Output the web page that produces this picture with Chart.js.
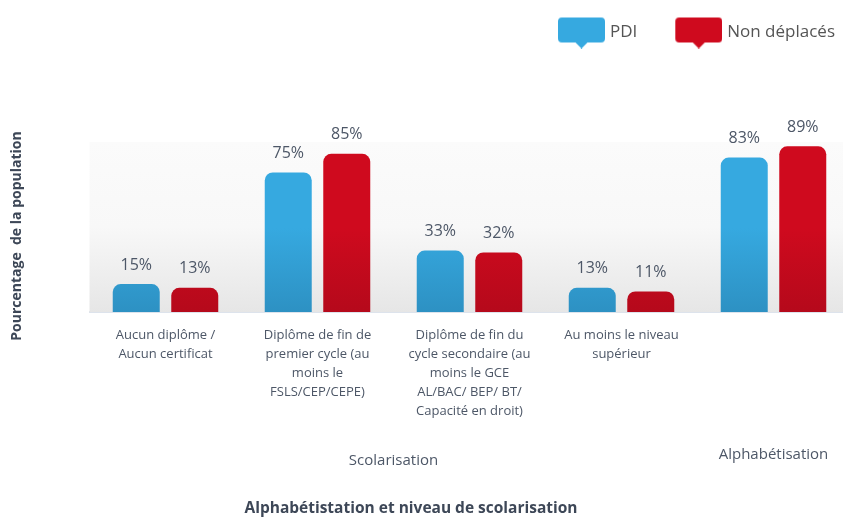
<!DOCTYPE html>
<html>
<head>
<meta charset="utf-8">
<script src="https://cdn.jsdelivr.net/npm/chart.js@4/dist/chart.umd.min.js"></script>
<style>
  html, body { margin: 0; padding: 0; background: #fff; overflow: hidden; }
  #wrap { width: 856px; height: 517px; position: relative; }
</style>
</head>
<body>
<div id="wrap"><canvas id="chart"></canvas></div>
<script>
// data
const categories = [
  ["Aucun diplôme /", "Aucun certificat"],
  ["Diplôme de fin de", "premier cycle (au", "moins le", "FSLS/CEP/CEPE)"],
  ["Diplôme de fin du", "cycle secondaire (au", "moins le GCE", "AL/BAC/ BEP/ BT/", "Capacité en droit)"],
  ["Au moins le niveau", "supérieur"],
  [""]
];
const pdi = [15, 75, 33, 13, 83];
const nonDeplaces = [13, 85, 32, 11, 89];
const groupNames = ["Scolarisation", "Alphabétisation"];
const groupRanges = [[0, 3], [4, 4]];

const FONT = "'Open Sans', 'DejaVu Sans', sans-serif";
const TEXT = "#4d5767";

function bubble(color) {
  // speech-bubble marker used in the legend
  const c = document.createElement("canvas");
  c.width = 74; c.height = 32;
  const g = c.getContext("2d");
  const x = 27, y = 1, w = 47, h = 25, r = 4;
  g.fillStyle = color;
  g.beginPath();
  g.moveTo(x + r, y);
  g.lineTo(x + w - r, y); g.quadraticCurveTo(x + w, y, x + w, y + r);
  g.lineTo(x + w, y + h - r); g.quadraticCurveTo(x + w, y + h, x + w - r, y + h);
  g.lineTo(x + w / 2 + 6, y + h);
  g.lineTo(x + w / 2, y + h + 6);
  g.lineTo(x + w / 2 - 6, y + h);
  g.lineTo(x + r, y + h); g.quadraticCurveTo(x, y + h, x, y + h - r);
  g.lineTo(x, y + r); g.quadraticCurveTo(x, y, x + r, y);
  g.closePath();
  g.fill();
  return c;
}

function barFill(top, bottom) {
  return function (context) {
    const area = context.chart.chartArea;
    if (!area) return top;
    const gr = context.chart.ctx.createLinearGradient(0, area.top, 0, area.bottom);
    gr.addColorStop(0, top);
    gr.addColorStop(0.55, top);
    gr.addColorStop(1, bottom);
    return gr;
  };
}

const backdrop = {
  id: "backdrop",
  beforeDatasetsDraw(chart) {
    const { ctx, chartArea: a } = chart;
    const top = a.top + 16;
    const gr = ctx.createLinearGradient(0, top, 0, a.bottom);
    gr.addColorStop(0, "#fbfbfb");
    gr.addColorStop(0.5, "#f8f8f8");
    gr.addColorStop(1, "#e6e6e6");
    ctx.save();
    ctx.fillStyle = gr;
    ctx.fillRect(a.left, top, a.right - a.left, a.bottom - top);
    ctx.restore();
  }
};

const valueLabels = {
  id: "valueLabels",
  afterDatasetsDraw(chart) {
    const ctx = chart.ctx;
    ctx.save();
    ctx.font = "16px " + FONT;
    ctx.fillStyle = TEXT;
    ctx.textAlign = "center";
    ctx.textBaseline = "middle";
    chart.data.datasets.forEach((ds, i) => {
      chart.getDatasetMeta(i).data.forEach((bar, j) => {
        ctx.fillText(ds.data[j] + "%", bar.x, bar.y - 19);
      });
    });
    ctx.restore();
  }
};

const extraText = {
  id: "extraText",
  afterDraw(chart) {
    const ctx = chart.ctx;
    const xs = chart.scales.x;
    ctx.save();
    ctx.textAlign = "center";
    ctx.textBaseline = "middle";
    ctx.fillStyle = TEXT;
    ctx.font = "15px " + FONT;
    groupNames.forEach((name, i) => {
      const [a, b] = groupRanges[i];
      const cx = (xs.getPixelForValue(a) + xs.getPixelForValue(b)) / 2;
      ctx.fillText(name, cx, i === 0 ? 461 : 455);
    });
    // axis titles
    ctx.fillStyle = "#3d4757";
    ctx.font = "bold 15.5px " + FONT;
    ctx.fillText("Alphabétistation et niveau de scolarisation", 411, 509);
    ctx.translate(17, 236);
    ctx.rotate(-Math.PI / 2);
    ctx.font = "bold 14px " + FONT;
    ctx.fillText("Pourcentage  de la population", 0, 0);
    ctx.restore();
  }
};

const ctx = document.getElementById("chart").getContext("2d");
const chart = new Chart(ctx, {
  type: "bar",
  data: {
    labels: categories,
    datasets: [
      {
        label: "PDI",
        data: pdi,
        backgroundColor: barFill("#36a9e0", "#2d91c3"),
        pointStyle: bubble("#36a9e0"),
        borderRadius: { topLeft: 8, topRight: 8 },
        borderSkipped: "bottom",
        categoryPercentage: 0.77,
        barPercentage: 0.803
      },
      {
        label: "Non déplacés",
        data: nonDeplaces,
        backgroundColor: barFill("#cf0a1e", "#b5091b"),
        pointStyle: bubble("#cf0a1e"),
        borderRadius: { topLeft: 8, topRight: 8 },
        borderSkipped: "bottom",
        categoryPercentage: 0.77,
        barPercentage: 0.803
      }
    ]
  },
  options: {
    responsive: true,
    maintainAspectRatio: false,
    animation: false,
    layout: { padding: { top: 9.5, right: 6.5, bottom: 0, left: 0 } },
    plugins: {
      tooltip: { enabled: false },
      title: { display: false },
      subtitle: {
        // empty spacer between legend and plot
        display: true,
        text: "",
        weight: 500,
        padding: { top: 0, bottom: 60.5 }
      },
      legend: {
        position: "top",
        align: "end",
        labels: {
          usePointStyle: true,
          pointStyleWidth: 67,
          padding: 14.5,
          color: "#555",
          font: { family: FONT, size: 17 }
        }
      }
    },
    scales: {
      x: {
        grid: { display: false, drawTicks: false },
        border: { display: true, color: "#dde3ec", width: 2 },
        ticks: {
          color: TEXT,
          font: { family: FONT, size: 13, lineHeight: 1.46 },
          padding: 14,
          maxRotation: 0,
          autoSkip: false
        },
        afterFit: (s) => { s.height = 205; }
      },
      y: {
        min: 0,
        max: 100,
        ticks: { display: false },
        grid: { display: false },
        border: { display: false },
        afterFit: (s) => { s.width = 89.5; }
      }
    }
  },
  plugins: [backdrop, valueLabels, extraText]
});
</script>
</body>
</html>
